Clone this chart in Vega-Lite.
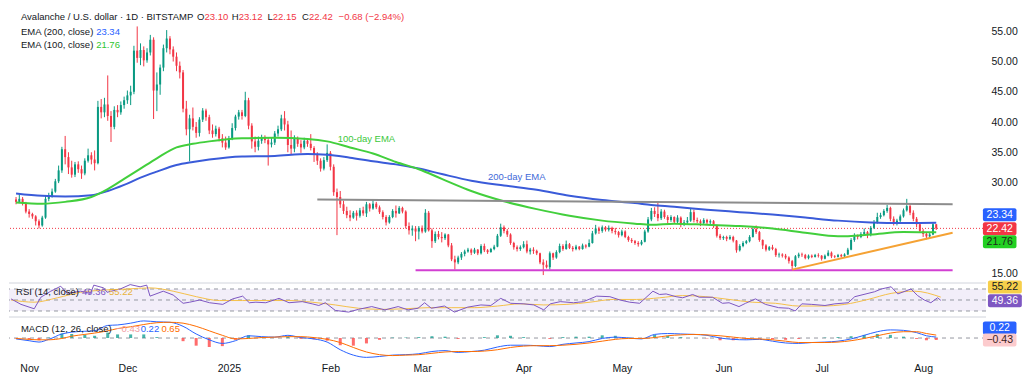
{
"$schema":"https://vega.github.io/schema/vega-lite/v6.json",
"background":"white",
"padding":{"left":8,"top":0,"right":0,"bottom":0},
"spacing":1,
"config":{"view":{"stroke":null},"font":"Liberation Sans"},
"datasets":{
"px":[
{"d":"2024-10-28","o":27.2,"h":27.6,"l":26.4,"c":26.8},
{"d":"2024-10-29","o":26.8,"h":28.0,"l":26.6,"c":27.3},
{"d":"2024-10-30","o":27.3,"h":27.6,"l":26.2,"c":26.5},
{"d":"2024-10-31","o":26.5,"h":26.8,"l":24.9,"c":25.2},
{"d":"2024-11-01","o":25.2,"h":25.6,"l":24.2,"c":24.8},
{"d":"2024-11-02","o":24.8,"h":25.0,"l":24.0,"c":24.4},
{"d":"2024-11-03","o":24.4,"h":24.6,"l":22.9,"c":23.6},
{"d":"2024-11-04","o":23.6,"h":23.9,"l":22.4,"c":22.9},
{"d":"2024-11-05","o":22.9,"h":24.5,"l":22.7,"c":24.2},
{"d":"2024-11-06","o":24.2,"h":27.8,"l":24.0,"c":27.3},
{"d":"2024-11-07","o":27.3,"h":28.3,"l":26.9,"c":27.8},
{"d":"2024-11-08","o":27.8,"h":29.0,"l":27.5,"c":28.5},
{"d":"2024-11-09","o":28.5,"h":30.6,"l":28.3,"c":30.2},
{"d":"2024-11-10","o":30.2,"h":32.8,"l":29.9,"c":32.0},
{"d":"2024-11-11","o":32.0,"h":35.9,"l":31.6,"c":35.5},
{"d":"2024-11-12","o":35.5,"h":37.7,"l":33.0,"c":34.2},
{"d":"2024-11-13","o":34.2,"h":35.0,"l":31.4,"c":32.5},
{"d":"2024-11-14","o":32.5,"h":33.6,"l":30.8,"c":31.3},
{"d":"2024-11-15","o":31.3,"h":33.4,"l":30.9,"c":33.0},
{"d":"2024-11-16","o":33.0,"h":33.5,"l":31.6,"c":32.2},
{"d":"2024-11-17","o":32.2,"h":32.8,"l":30.6,"c":31.5},
{"d":"2024-11-18","o":31.5,"h":34.0,"l":31.2,"c":33.6},
{"d":"2024-11-19","o":33.6,"h":35.6,"l":33.3,"c":34.5},
{"d":"2024-11-20","o":34.5,"h":35.0,"l":33.0,"c":33.8},
{"d":"2024-11-21","o":33.8,"h":35.3,"l":32.0,"c":33.2},
{"d":"2024-11-22","o":33.2,"h":43.5,"l":33.0,"c":42.5},
{"d":"2024-11-23","o":42.5,"h":43.8,"l":40.6,"c":41.6},
{"d":"2024-11-24","o":41.6,"h":44.0,"l":40.8,"c":42.9},
{"d":"2024-11-25","o":42.9,"h":47.7,"l":40.2,"c":41.0},
{"d":"2024-11-26","o":41.0,"h":41.8,"l":36.7,"c":39.2},
{"d":"2024-11-27","o":39.2,"h":42.6,"l":38.8,"c":42.0},
{"d":"2024-11-28","o":42.0,"h":42.8,"l":40.8,"c":41.6},
{"d":"2024-11-29","o":41.6,"h":43.4,"l":41.2,"c":42.8},
{"d":"2024-11-30","o":42.8,"h":44.2,"l":42.2,"c":43.6},
{"d":"2024-12-01","o":43.6,"h":45.2,"l":43.0,"c":44.4},
{"d":"2024-12-02","o":44.4,"h":46.0,"l":42.8,"c":45.0},
{"d":"2024-12-03","o":45.0,"h":52.6,"l":44.6,"c":51.8},
{"d":"2024-12-04","o":51.8,"h":55.8,"l":49.8,"c":50.6},
{"d":"2024-12-05","o":50.6,"h":53.0,"l":49.4,"c":51.9},
{"d":"2024-12-06","o":51.9,"h":52.5,"l":49.2,"c":50.2},
{"d":"2024-12-07","o":50.2,"h":52.2,"l":49.8,"c":51.5},
{"d":"2024-12-08","o":51.5,"h":54.4,"l":51.0,"c":53.6},
{"d":"2024-12-09","o":53.6,"h":54.0,"l":40.5,"c":45.2},
{"d":"2024-12-10","o":45.2,"h":48.2,"l":41.8,"c":46.2},
{"d":"2024-12-11","o":46.2,"h":49.5,"l":44.5,"c":49.0},
{"d":"2024-12-12","o":49.0,"h":52.8,"l":48.4,"c":52.2},
{"d":"2024-12-13","o":52.2,"h":55.2,"l":51.5,"c":53.8},
{"d":"2024-12-14","o":53.8,"h":54.2,"l":51.2,"c":52.0},
{"d":"2024-12-15","o":52.0,"h":52.5,"l":50.0,"c":50.8},
{"d":"2024-12-16","o":50.8,"h":51.5,"l":48.4,"c":49.3},
{"d":"2024-12-17","o":49.3,"h":50.0,"l":47.2,"c":48.2},
{"d":"2024-12-18","o":48.2,"h":48.6,"l":41.6,"c":42.2},
{"d":"2024-12-19","o":42.2,"h":43.5,"l":37.8,"c":38.8},
{"d":"2024-12-20","o":38.8,"h":41.2,"l":33.5,"c":40.6},
{"d":"2024-12-21","o":40.6,"h":42.4,"l":38.6,"c":39.2},
{"d":"2024-12-22","o":39.2,"h":40.0,"l":37.4,"c":38.2},
{"d":"2024-12-23","o":38.2,"h":40.8,"l":37.6,"c":40.4},
{"d":"2024-12-24","o":40.4,"h":42.3,"l":40.0,"c":41.9},
{"d":"2024-12-25","o":41.9,"h":42.2,"l":40.2,"c":40.8},
{"d":"2024-12-26","o":40.8,"h":41.2,"l":38.0,"c":38.6},
{"d":"2024-12-27","o":38.6,"h":39.6,"l":37.4,"c":38.0},
{"d":"2024-12-28","o":38.0,"h":39.4,"l":37.6,"c":38.9},
{"d":"2024-12-29","o":38.9,"h":39.2,"l":36.8,"c":37.3},
{"d":"2024-12-30","o":37.3,"h":38.0,"l":35.8,"c":36.6},
{"d":"2024-12-31","o":36.6,"h":37.6,"l":35.4,"c":35.8},
{"d":"2025-01-01","o":35.8,"h":37.7,"l":35.6,"c":37.3},
{"d":"2025-01-02","o":37.3,"h":39.8,"l":37.0,"c":39.0},
{"d":"2025-01-03","o":39.0,"h":41.2,"l":38.6,"c":40.9},
{"d":"2025-01-04","o":40.9,"h":42.0,"l":40.4,"c":41.6},
{"d":"2025-01-05","o":41.6,"h":42.0,"l":40.4,"c":41.0},
{"d":"2025-01-06","o":41.0,"h":45.0,"l":40.8,"c":43.6},
{"d":"2025-01-07","o":43.6,"h":44.0,"l":38.8,"c":39.4},
{"d":"2025-01-08","o":39.4,"h":39.8,"l":35.6,"c":36.8},
{"d":"2025-01-09","o":36.8,"h":37.6,"l":35.0,"c":35.9},
{"d":"2025-01-10","o":35.9,"h":37.6,"l":35.3,"c":36.9},
{"d":"2025-01-11","o":36.9,"h":37.9,"l":36.4,"c":37.4},
{"d":"2025-01-12","o":37.4,"h":37.8,"l":36.5,"c":37.0},
{"d":"2025-01-13","o":37.0,"h":37.5,"l":32.8,"c":36.3},
{"d":"2025-01-14","o":36.3,"h":37.4,"l":35.8,"c":36.6},
{"d":"2025-01-15","o":36.6,"h":38.5,"l":36.2,"c":38.1},
{"d":"2025-01-16","o":38.1,"h":39.4,"l":37.6,"c":38.8},
{"d":"2025-01-17","o":38.8,"h":41.2,"l":38.5,"c":40.6},
{"d":"2025-01-18","o":40.6,"h":41.8,"l":38.6,"c":39.6},
{"d":"2025-01-19","o":39.6,"h":40.2,"l":35.0,"c":36.2},
{"d":"2025-01-20","o":36.2,"h":38.6,"l":34.6,"c":35.6},
{"d":"2025-01-21","o":35.6,"h":37.8,"l":35.0,"c":37.2},
{"d":"2025-01-22","o":37.2,"h":37.6,"l":35.9,"c":36.4},
{"d":"2025-01-23","o":36.4,"h":37.0,"l":34.9,"c":35.8},
{"d":"2025-01-24","o":35.8,"h":37.4,"l":35.5,"c":36.9},
{"d":"2025-01-25","o":36.9,"h":37.2,"l":35.9,"c":36.4},
{"d":"2025-01-26","o":36.4,"h":38.0,"l":35.3,"c":35.7},
{"d":"2025-01-27","o":35.7,"h":36.0,"l":33.4,"c":34.6},
{"d":"2025-01-28","o":34.6,"h":35.0,"l":32.9,"c":33.6},
{"d":"2025-01-29","o":33.6,"h":34.0,"l":31.8,"c":32.3},
{"d":"2025-01-30","o":32.3,"h":34.2,"l":32.0,"c":33.7},
{"d":"2025-01-31","o":33.7,"h":36.3,"l":33.4,"c":34.9},
{"d":"2025-02-01","o":34.9,"h":35.2,"l":32.0,"c":32.6},
{"d":"2025-02-02","o":32.6,"h":33.0,"l":27.8,"c":28.4},
{"d":"2025-02-03","o":28.4,"h":29.0,"l":21.3,"c":27.6},
{"d":"2025-02-04","o":27.6,"h":28.6,"l":25.8,"c":26.4},
{"d":"2025-02-05","o":26.4,"h":27.0,"l":24.8,"c":25.3},
{"d":"2025-02-06","o":25.3,"h":26.0,"l":24.1,"c":24.6},
{"d":"2025-02-07","o":24.6,"h":25.4,"l":23.6,"c":24.2},
{"d":"2025-02-08","o":24.2,"h":25.3,"l":24.0,"c":25.0},
{"d":"2025-02-09","o":25.0,"h":25.4,"l":23.7,"c":24.5},
{"d":"2025-02-10","o":24.5,"h":25.8,"l":24.2,"c":25.4},
{"d":"2025-02-11","o":25.4,"h":26.0,"l":24.5,"c":24.9},
{"d":"2025-02-12","o":24.9,"h":26.8,"l":24.3,"c":26.4},
{"d":"2025-02-13","o":26.4,"h":26.6,"l":25.2,"c":25.7},
{"d":"2025-02-14","o":25.7,"h":27.2,"l":25.5,"c":26.5},
{"d":"2025-02-15","o":26.5,"h":26.8,"l":25.6,"c":25.9},
{"d":"2025-02-16","o":25.9,"h":26.2,"l":24.8,"c":25.1},
{"d":"2025-02-17","o":25.1,"h":25.4,"l":23.9,"c":24.3},
{"d":"2025-02-18","o":24.3,"h":24.6,"l":22.9,"c":23.4},
{"d":"2025-02-19","o":23.4,"h":24.6,"l":23.2,"c":24.3},
{"d":"2025-02-20","o":24.3,"h":25.6,"l":24.1,"c":25.3},
{"d":"2025-02-21","o":25.3,"h":26.2,"l":24.2,"c":24.9},
{"d":"2025-02-22","o":24.9,"h":26.1,"l":24.8,"c":25.8},
{"d":"2025-02-23","o":25.8,"h":26.0,"l":24.9,"c":25.2},
{"d":"2025-02-24","o":25.2,"h":25.4,"l":22.4,"c":22.8},
{"d":"2025-02-25","o":22.8,"h":23.4,"l":21.4,"c":22.1},
{"d":"2025-02-26","o":22.1,"h":22.9,"l":21.2,"c":22.4},
{"d":"2025-02-27","o":22.4,"h":22.8,"l":20.3,"c":21.9},
{"d":"2025-02-28","o":21.9,"h":22.8,"l":20.6,"c":22.5},
{"d":"2025-03-01","o":22.5,"h":22.9,"l":21.6,"c":21.9},
{"d":"2025-03-02","o":21.9,"h":25.6,"l":21.7,"c":25.0},
{"d":"2025-03-03","o":25.0,"h":25.3,"l":21.9,"c":22.1},
{"d":"2025-03-04","o":22.1,"h":22.4,"l":19.2,"c":20.3},
{"d":"2025-03-05","o":20.3,"h":21.9,"l":20.0,"c":21.5},
{"d":"2025-03-06","o":21.5,"h":22.0,"l":20.6,"c":21.0},
{"d":"2025-03-07","o":21.0,"h":21.8,"l":20.1,"c":20.8},
{"d":"2025-03-08","o":20.8,"h":21.6,"l":20.5,"c":21.4},
{"d":"2025-03-09","o":21.4,"h":21.5,"l":19.3,"c":19.6},
{"d":"2025-03-10","o":19.6,"h":20.0,"l":17.0,"c":17.3},
{"d":"2025-03-11","o":17.3,"h":17.9,"l":15.6,"c":16.8},
{"d":"2025-03-12","o":16.8,"h":17.9,"l":16.5,"c":17.6},
{"d":"2025-03-13","o":17.6,"h":18.5,"l":17.2,"c":18.2},
{"d":"2025-03-14","o":18.2,"h":18.9,"l":17.8,"c":18.6},
{"d":"2025-03-15","o":18.6,"h":19.2,"l":18.4,"c":18.9},
{"d":"2025-03-16","o":18.9,"h":19.1,"l":18.0,"c":18.4},
{"d":"2025-03-17","o":18.4,"h":19.2,"l":18.2,"c":18.9},
{"d":"2025-03-18","o":18.9,"h":19.0,"l":18.0,"c":18.3},
{"d":"2025-03-19","o":18.3,"h":19.8,"l":18.1,"c":19.5},
{"d":"2025-03-20","o":19.5,"h":19.9,"l":18.5,"c":18.8},
{"d":"2025-03-21","o":18.8,"h":19.0,"l":18.2,"c":18.5},
{"d":"2025-03-22","o":18.5,"h":19.2,"l":18.4,"c":19.0},
{"d":"2025-03-23","o":19.0,"h":19.7,"l":18.8,"c":19.4},
{"d":"2025-03-24","o":19.4,"h":21.5,"l":19.3,"c":21.2},
{"d":"2025-03-25","o":21.2,"h":23.2,"l":21.0,"c":22.6},
{"d":"2025-03-26","o":22.6,"h":22.9,"l":21.6,"c":22.0},
{"d":"2025-03-27","o":22.0,"h":22.3,"l":21.0,"c":21.4},
{"d":"2025-03-28","o":21.4,"h":21.6,"l":19.7,"c":20.0},
{"d":"2025-03-29","o":20.0,"h":20.2,"l":18.9,"c":19.3},
{"d":"2025-03-30","o":19.3,"h":19.6,"l":18.6,"c":19.0},
{"d":"2025-03-31","o":19.0,"h":19.6,"l":18.7,"c":19.3},
{"d":"2025-04-01","o":19.3,"h":20.3,"l":19.1,"c":19.8},
{"d":"2025-04-02","o":19.8,"h":20.4,"l":18.3,"c":18.6},
{"d":"2025-04-03","o":18.6,"h":19.2,"l":18.1,"c":18.9},
{"d":"2025-04-04","o":18.9,"h":19.3,"l":18.2,"c":18.7},
{"d":"2025-04-05","o":18.7,"h":18.9,"l":18.0,"c":18.3},
{"d":"2025-04-06","o":18.3,"h":18.4,"l":16.5,"c":16.8},
{"d":"2025-04-07","o":16.8,"h":17.3,"l":14.7,"c":16.4},
{"d":"2025-04-08","o":16.4,"h":17.1,"l":15.8,"c":16.0},
{"d":"2025-04-09","o":16.0,"h":18.6,"l":15.6,"c":18.3},
{"d":"2025-04-10","o":18.3,"h":18.4,"l":17.2,"c":17.6},
{"d":"2025-04-11","o":17.6,"h":18.8,"l":17.4,"c":18.5},
{"d":"2025-04-12","o":18.5,"h":19.9,"l":18.3,"c":19.5},
{"d":"2025-04-13","o":19.5,"h":19.8,"l":18.7,"c":19.0},
{"d":"2025-04-14","o":19.0,"h":20.4,"l":18.9,"c":19.8},
{"d":"2025-04-15","o":19.8,"h":20.0,"l":19.0,"c":19.2},
{"d":"2025-04-16","o":19.2,"h":19.5,"l":18.6,"c":19.0},
{"d":"2025-04-17","o":19.0,"h":19.7,"l":18.8,"c":19.4},
{"d":"2025-04-18","o":19.4,"h":19.5,"l":18.8,"c":19.0},
{"d":"2025-04-19","o":19.0,"h":19.9,"l":18.9,"c":19.6},
{"d":"2025-04-20","o":19.6,"h":19.8,"l":19.1,"c":19.4},
{"d":"2025-04-21","o":19.4,"h":20.6,"l":19.3,"c":20.0},
{"d":"2025-04-22","o":20.0,"h":22.0,"l":19.9,"c":21.6},
{"d":"2025-04-23","o":21.6,"h":23.0,"l":21.4,"c":22.4},
{"d":"2025-04-24","o":22.4,"h":22.7,"l":21.5,"c":22.0},
{"d":"2025-04-25","o":22.0,"h":22.9,"l":21.7,"c":22.6},
{"d":"2025-04-26","o":22.6,"h":22.8,"l":21.9,"c":22.2},
{"d":"2025-04-27","o":22.2,"h":22.9,"l":21.9,"c":22.5},
{"d":"2025-04-28","o":22.5,"h":22.7,"l":21.6,"c":22.0},
{"d":"2025-04-29","o":22.0,"h":22.5,"l":21.4,"c":21.8},
{"d":"2025-04-30","o":21.8,"h":22.0,"l":20.9,"c":21.3},
{"d":"2025-05-01","o":21.3,"h":22.2,"l":21.1,"c":21.9},
{"d":"2025-05-02","o":21.9,"h":22.1,"l":20.8,"c":21.0},
{"d":"2025-05-03","o":21.0,"h":21.2,"l":20.2,"c":20.5},
{"d":"2025-05-04","o":20.5,"h":20.8,"l":20.0,"c":20.3},
{"d":"2025-05-05","o":20.3,"h":20.5,"l":19.7,"c":20.0},
{"d":"2025-05-06","o":20.0,"h":20.3,"l":19.4,"c":19.8},
{"d":"2025-05-07","o":19.8,"h":20.5,"l":19.6,"c":20.2},
{"d":"2025-05-08","o":20.2,"h":22.2,"l":20.1,"c":21.9},
{"d":"2025-05-09","o":21.9,"h":24.3,"l":21.7,"c":23.9},
{"d":"2025-05-10","o":23.9,"h":25.8,"l":23.6,"c":25.3},
{"d":"2025-05-11","o":25.3,"h":25.9,"l":24.3,"c":24.8},
{"d":"2025-05-12","o":24.8,"h":26.7,"l":23.6,"c":24.1},
{"d":"2025-05-13","o":24.1,"h":25.6,"l":23.8,"c":25.2},
{"d":"2025-05-14","o":25.2,"h":25.5,"l":24.0,"c":24.3},
{"d":"2025-05-15","o":24.3,"h":24.6,"l":23.2,"c":23.8},
{"d":"2025-05-16","o":23.8,"h":24.6,"l":23.5,"c":24.3},
{"d":"2025-05-17","o":24.3,"h":24.4,"l":23.2,"c":23.5},
{"d":"2025-05-18","o":23.5,"h":24.6,"l":23.3,"c":24.2},
{"d":"2025-05-19","o":24.2,"h":24.4,"l":22.6,"c":23.0},
{"d":"2025-05-20","o":23.0,"h":23.8,"l":22.8,"c":23.4},
{"d":"2025-05-21","o":23.4,"h":24.3,"l":23.0,"c":23.7},
{"d":"2025-05-22","o":23.7,"h":25.8,"l":23.5,"c":25.1},
{"d":"2025-05-23","o":25.1,"h":25.5,"l":23.4,"c":23.8},
{"d":"2025-05-24","o":23.8,"h":24.2,"l":23.3,"c":23.6},
{"d":"2025-05-25","o":23.6,"h":23.9,"l":22.8,"c":23.3},
{"d":"2025-05-26","o":23.3,"h":24.1,"l":23.1,"c":23.8},
{"d":"2025-05-27","o":23.8,"h":24.0,"l":23.0,"c":23.4},
{"d":"2025-05-28","o":23.4,"h":23.9,"l":23.0,"c":23.6},
{"d":"2025-05-29","o":23.6,"h":23.8,"l":22.5,"c":22.8},
{"d":"2025-05-30","o":22.8,"h":23.0,"l":20.9,"c":21.2},
{"d":"2025-05-31","o":21.2,"h":21.5,"l":20.5,"c":20.8},
{"d":"2025-06-01","o":20.8,"h":21.2,"l":20.5,"c":21.0},
{"d":"2025-06-02","o":21.0,"h":21.2,"l":20.3,"c":20.7},
{"d":"2025-06-03","o":20.7,"h":21.3,"l":20.5,"c":21.0},
{"d":"2025-06-04","o":21.0,"h":21.2,"l":20.1,"c":20.4},
{"d":"2025-06-05","o":20.4,"h":20.5,"l":18.4,"c":18.8},
{"d":"2025-06-06","o":18.8,"h":19.8,"l":18.6,"c":19.5},
{"d":"2025-06-07","o":19.5,"h":20.3,"l":19.3,"c":20.0},
{"d":"2025-06-08","o":20.0,"h":20.5,"l":19.8,"c":20.3},
{"d":"2025-06-09","o":20.3,"h":21.3,"l":20.1,"c":21.0},
{"d":"2025-06-10","o":21.0,"h":22.6,"l":20.9,"c":22.3},
{"d":"2025-06-11","o":22.3,"h":22.9,"l":21.5,"c":21.8},
{"d":"2025-06-12","o":21.8,"h":22.0,"l":20.2,"c":20.5},
{"d":"2025-06-13","o":20.5,"h":20.6,"l":19.0,"c":19.6},
{"d":"2025-06-14","o":19.6,"h":19.8,"l":18.6,"c":18.9},
{"d":"2025-06-15","o":18.9,"h":19.5,"l":18.7,"c":19.3},
{"d":"2025-06-16","o":19.3,"h":19.7,"l":18.8,"c":19.0},
{"d":"2025-06-17","o":19.0,"h":19.2,"l":17.7,"c":18.0},
{"d":"2025-06-18","o":18.0,"h":18.4,"l":17.6,"c":18.1},
{"d":"2025-06-19","o":18.1,"h":18.3,"l":17.6,"c":17.9},
{"d":"2025-06-20","o":17.9,"h":18.2,"l":17.3,"c":17.6},
{"d":"2025-06-21","o":17.6,"h":17.8,"l":16.6,"c":17.0},
{"d":"2025-06-22","o":17.0,"h":17.2,"l":15.5,"c":16.2},
{"d":"2025-06-23","o":16.2,"h":18.0,"l":16.0,"c":17.8},
{"d":"2025-06-24","o":17.8,"h":18.4,"l":17.5,"c":18.1},
{"d":"2025-06-25","o":18.1,"h":18.4,"l":17.7,"c":18.0},
{"d":"2025-06-26","o":18.0,"h":18.2,"l":17.3,"c":17.5},
{"d":"2025-06-27","o":17.5,"h":18.1,"l":17.3,"c":17.9},
{"d":"2025-06-28","o":17.9,"h":18.1,"l":17.5,"c":17.7},
{"d":"2025-06-29","o":17.7,"h":18.2,"l":17.6,"c":18.0},
{"d":"2025-06-30","o":18.0,"h":18.3,"l":17.6,"c":17.9},
{"d":"2025-07-01","o":17.9,"h":18.0,"l":17.1,"c":17.4},
{"d":"2025-07-02","o":17.4,"h":18.1,"l":17.3,"c":17.9},
{"d":"2025-07-03","o":17.9,"h":18.8,"l":17.8,"c":18.4},
{"d":"2025-07-04","o":18.4,"h":18.6,"l":17.5,"c":17.8},
{"d":"2025-07-05","o":17.8,"h":18.0,"l":17.5,"c":17.7},
{"d":"2025-07-06","o":17.7,"h":18.2,"l":17.6,"c":18.0},
{"d":"2025-07-07","o":18.0,"h":18.2,"l":17.6,"c":17.8},
{"d":"2025-07-08","o":17.8,"h":18.3,"l":17.6,"c":18.1},
{"d":"2025-07-09","o":18.1,"h":19.2,"l":18.0,"c":18.9},
{"d":"2025-07-10","o":18.9,"h":20.8,"l":18.8,"c":20.5},
{"d":"2025-07-11","o":20.5,"h":21.6,"l":20.2,"c":21.2},
{"d":"2025-07-12","o":21.2,"h":21.4,"l":20.6,"c":21.0},
{"d":"2025-07-13","o":21.0,"h":21.8,"l":20.8,"c":21.5},
{"d":"2025-07-14","o":21.5,"h":22.4,"l":21.3,"c":21.8},
{"d":"2025-07-15","o":21.8,"h":22.0,"l":20.8,"c":21.3},
{"d":"2025-07-16","o":21.3,"h":22.8,"l":21.1,"c":22.5},
{"d":"2025-07-17","o":22.5,"h":23.8,"l":22.3,"c":23.4},
{"d":"2025-07-18","o":23.4,"h":25.0,"l":23.2,"c":24.3},
{"d":"2025-07-19","o":24.3,"h":25.0,"l":24.0,"c":24.6},
{"d":"2025-07-20","o":24.6,"h":25.6,"l":24.4,"c":25.3},
{"d":"2025-07-21","o":25.3,"h":26.3,"l":25.0,"c":25.8},
{"d":"2025-07-22","o":25.8,"h":26.0,"l":23.6,"c":24.0},
{"d":"2025-07-23","o":24.0,"h":24.4,"l":22.9,"c":23.3},
{"d":"2025-07-24","o":23.3,"h":24.0,"l":22.9,"c":23.7},
{"d":"2025-07-25","o":23.7,"h":24.7,"l":23.4,"c":24.4},
{"d":"2025-07-26","o":24.4,"h":25.7,"l":24.2,"c":25.4},
{"d":"2025-07-27","o":25.4,"h":27.3,"l":25.2,"c":26.1},
{"d":"2025-07-28","o":26.1,"h":26.6,"l":24.6,"c":25.0},
{"d":"2025-07-29","o":25.0,"h":25.4,"l":23.6,"c":24.0},
{"d":"2025-07-30","o":24.0,"h":24.3,"l":22.6,"c":23.1},
{"d":"2025-07-31","o":23.1,"h":23.4,"l":21.7,"c":22.0},
{"d":"2025-08-01","o":22.0,"h":22.3,"l":21.0,"c":21.5},
{"d":"2025-08-02","o":21.5,"h":21.8,"l":20.6,"c":21.1},
{"d":"2025-08-03","o":21.1,"h":21.7,"l":20.8,"c":21.4},
{"d":"2025-08-04","o":21.4,"h":23.4,"l":21.3,"c":23.1},
{"d":"2025-08-05","o":23.1,"h":23.12,"l":22.15,"c":22.42}
],
"ema":[
{"d":"2024-10-28","e200":28.2,"e100":26.7},
{"d":"2024-11-05","e200":27.8,"e100":26.5},
{"d":"2024-11-12","e200":27.7,"e100":26.8},
{"d":"2024-11-20","e200":27.9,"e100":27.6},
{"d":"2024-11-25","e200":28.6,"e100":28.9},
{"d":"2024-11-30","e200":29.6,"e100":30.6},
{"d":"2024-12-05","e200":30.8,"e100":32.3},
{"d":"2024-12-10","e200":31.8,"e100":34.0},
{"d":"2024-12-16","e200":32.9,"e100":35.8},
{"d":"2024-12-21","e200":33.4,"e100":36.4},
{"d":"2024-12-26","e200":33.8,"e100":36.8},
{"d":"2025-01-05","e200":34.3,"e100":37.3},
{"d":"2025-01-15","e200":34.4,"e100":37.4},
{"d":"2025-01-25","e200":34.7,"e100":37.2},
{"d":"2025-01-31","e200":34.6,"e100":36.8},
{"d":"2025-02-07","e200":34.1,"e100":35.8},
{"d":"2025-02-14","e200":33.5,"e100":34.8},
{"d":"2025-02-21","e200":33.0,"e100":33.4},
{"d":"2025-02-28","e200":32.3,"e100":32.2},
{"d":"2025-03-07","e200":31.4,"e100":30.6},
{"d":"2025-03-16","e200":30.3,"e100":28.6},
{"d":"2025-03-26","e200":29.5,"e100":26.9},
{"d":"2025-04-05","e200":28.8,"e100":25.6},
{"d":"2025-04-15","e200":27.8,"e100":24.5},
{"d":"2025-04-25","e200":27.1,"e100":23.7},
{"d":"2025-05-05","e200":26.6,"e100":23.2},
{"d":"2025-05-10","e200":26.3,"e100":23.0},
{"d":"2025-05-17","e200":26.0,"e100":23.2},
{"d":"2025-05-27","e200":25.5,"e100":23.0},
{"d":"2025-06-06","e200":25.1,"e100":22.8},
{"d":"2025-06-16","e200":24.7,"e100":22.4},
{"d":"2025-06-26","e200":24.2,"e100":21.7},
{"d":"2025-07-06","e200":23.7,"e100":21.1},
{"d":"2025-07-16","e200":23.4,"e100":21.4},
{"d":"2025-07-26","e200":23.3,"e100":21.8},
{"d":"2025-08-05","e200":23.34,"e100":21.76}
],
"rsi":[
{"d":"2024-10-28","r":52},{"d":"2024-10-31","r":42},{"d":"2024-11-04","r":34},{"d":"2024-11-06","r":55},{"d":"2024-11-09","r":66},{"d":"2024-11-12","r":75},{"d":"2024-11-14","r":62},{"d":"2024-11-18","r":66},{"d":"2024-11-21","r":62},{"d":"2024-11-22","r":77},{"d":"2024-11-25","r":72},{"d":"2024-11-26","r":64},{"d":"2024-11-30","r":70},{"d":"2024-12-03","r":78},{"d":"2024-12-06","r":74},{"d":"2024-12-08","r":77},{"d":"2024-12-09","r":57},{"d":"2024-12-13","r":66},{"d":"2024-12-16","r":59},{"d":"2024-12-19","r":44},{"d":"2024-12-21","r":46},{"d":"2024-12-24","r":50},{"d":"2024-12-27","r":45},{"d":"2024-12-31","r":42},{"d":"2025-01-03","r":52},{"d":"2025-01-06","r":57},{"d":"2025-01-08","r":45},{"d":"2025-01-10","r":46},{"d":"2025-01-13","r":45},{"d":"2025-01-17","r":53},{"d":"2025-01-20","r":45},{"d":"2025-01-24","r":47},{"d":"2025-01-27","r":43},{"d":"2025-01-29","r":40},{"d":"2025-01-31","r":45},{"d":"2025-02-03","r":31},{"d":"2025-02-07","r":28},{"d":"2025-02-10","r":33},{"d":"2025-02-14","r":38},{"d":"2025-02-18","r":32},{"d":"2025-02-22","r":38},{"d":"2025-02-25","r":32},{"d":"2025-02-28","r":35},{"d":"2025-03-02","r":45},{"d":"2025-03-04","r":35},{"d":"2025-03-08","r":39},{"d":"2025-03-11","r":28},{"d":"2025-03-15","r":37},{"d":"2025-03-19","r":41},{"d":"2025-03-22","r":40},{"d":"2025-03-25","r":53},{"d":"2025-03-28","r":44},{"d":"2025-04-01","r":43},{"d":"2025-04-04","r":41},{"d":"2025-04-07","r":32},{"d":"2025-04-09","r":43},{"d":"2025-04-12","r":47},{"d":"2025-04-16","r":45},{"d":"2025-04-19","r":47},{"d":"2025-04-23","r":57},{"d":"2025-04-27","r":56},{"d":"2025-04-30","r":50},{"d":"2025-05-03","r":46},{"d":"2025-05-06","r":44},{"d":"2025-05-10","r":66},{"d":"2025-05-12","r":60},{"d":"2025-05-14","r":61},{"d":"2025-05-17","r":56},{"d":"2025-05-19","r":54},{"d":"2025-05-22","r":60},{"d":"2025-05-24","r":55},{"d":"2025-05-28","r":55},{"d":"2025-05-31","r":44},{"d":"2025-06-02","r":45},{"d":"2025-06-05","r":38},{"d":"2025-06-07","r":44},{"d":"2025-06-10","r":52},{"d":"2025-06-13","r":42},{"d":"2025-06-17","r":36},{"d":"2025-06-20","r":35},{"d":"2025-06-22","r":30},{"d":"2025-06-24","r":43},{"d":"2025-06-27","r":42},{"d":"2025-07-01","r":40},{"d":"2025-07-04","r":43},{"d":"2025-07-08","r":45},{"d":"2025-07-10","r":56},{"d":"2025-07-14","r":62},{"d":"2025-07-16","r":65},{"d":"2025-07-18","r":70},{"d":"2025-07-21","r":74},{"d":"2025-07-23","r":61},{"d":"2025-07-27","r":70},{"d":"2025-07-29","r":58},{"d":"2025-07-31","r":50},{"d":"2025-08-02","r":45},{"d":"2025-08-04","r":54},{"d":"2025-08-05","r":49.36}
],
"rsima":[
{"d":"2024-10-28","m":50},{"d":"2024-11-04","m":46},{"d":"2024-11-11","m":54},{"d":"2024-11-18","m":64},{"d":"2024-11-25","m":68},{"d":"2024-12-02","m":70},{"d":"2024-12-09","m":72},{"d":"2024-12-16","m":66},{"d":"2024-12-23","m":56},{"d":"2024-12-30","m":49},{"d":"2025-01-06","m":49},{"d":"2025-01-13","m":49},{"d":"2025-01-20","m":49},{"d":"2025-01-27","m":46},{"d":"2025-02-03","m":41},{"d":"2025-02-10","m":35},{"d":"2025-02-17","m":33},{"d":"2025-02-24","m":34},{"d":"2025-03-03","m":36},{"d":"2025-03-10","m":36},{"d":"2025-03-17","m":36},{"d":"2025-03-24","m":39},{"d":"2025-03-31","m":43},{"d":"2025-04-07","m":41},{"d":"2025-04-14","m":42},{"d":"2025-04-21","m":46},{"d":"2025-04-28","m":51},{"d":"2025-05-05","m":51},{"d":"2025-05-12","m":54},{"d":"2025-05-19","m":58},{"d":"2025-05-26","m":56},{"d":"2025-06-02","m":51},{"d":"2025-06-09","m":46},{"d":"2025-06-16","m":44},{"d":"2025-06-23","m":39},{"d":"2025-06-30","m":39},{"d":"2025-07-07","m":42},{"d":"2025-07-14","m":51},{"d":"2025-07-21","m":62},{"d":"2025-07-28","m":66},{"d":"2025-08-05","m":55.22}
],
"macd":[
{"d":"2024-10-28","m":-0.2,"s":-0.1,"h":-0.1},{"d":"2024-11-01","m":-0.6,"s":-0.3,"h":-0.3},{"d":"2024-11-04","m":-0.9,"s":-0.4,"h":-0.5},{"d":"2024-11-07","m":-0.3,"s":-0.4,"h":0.1},{"d":"2024-11-11","m":0.9,"s":-0.1,"h":1.0},{"d":"2024-11-14","m":1.3,"s":0.4,"h":0.9},{"d":"2024-11-18","m":1.5,"s":0.8,"h":0.7},{"d":"2024-11-21","m":1.6,"s":1.1,"h":0.5},{"d":"2024-11-25","m":2.8,"s":1.6,"h":1.2},{"d":"2024-11-28","m":2.9,"s":2.1,"h":0.8},{"d":"2024-12-02","m":3.3,"s":2.5,"h":0.8},{"d":"2024-12-06","m":3.8,"s":3.0,"h":0.8},{"d":"2024-12-10","m":3.6,"s":3.4,"h":0.2},{"d":"2024-12-14","m":3.5,"s":3.5,"h":0.0},{"d":"2024-12-18","m":2.6,"s":3.3,"h":-0.7},{"d":"2024-12-22","m":0.9,"s":2.6,"h":-1.7},{"d":"2024-12-26","m":-0.4,"s":1.6,"h":-2.0},{"d":"2024-12-30","m":-1.2,"s":0.6,"h":-1.8},{"d":"2025-01-03","m":-0.6,"s":-0.2,"h":-0.4},{"d":"2025-01-07","m":0.5,"s":-0.1,"h":0.6},{"d":"2025-01-11","m":0.3,"s":0.1,"h":0.2},{"d":"2025-01-15","m":0.2,"s":0.2,"h":0.0},{"d":"2025-01-19","m":0.6,"s":0.3,"h":0.3},{"d":"2025-01-23","m":0.1,"s":0.3,"h":-0.2},{"d":"2025-01-27","m":-0.2,"s":0.1,"h":-0.3},{"d":"2025-01-31","m":-0.9,"s":-0.3,"h":-0.6},{"d":"2025-02-04","m":-2.6,"s":-1.0,"h":-1.6},{"d":"2025-02-08","m":-3.8,"s":-2.1,"h":-1.7},{"d":"2025-02-12","m":-4.3,"s":-3.1,"h":-1.2},{"d":"2025-02-16","m":-4.1,"s":-3.7,"h":-0.4},{"d":"2025-02-20","m":-3.8,"s":-3.9,"h":0.1},{"d":"2025-02-24","m":-3.7,"s":-3.8,"h":0.1},{"d":"2025-02-28","m":-3.5,"s":-3.7,"h":0.2},{"d":"2025-03-04","m":-3.0,"s":-3.4,"h":0.4},{"d":"2025-03-08","m":-2.8,"s":-3.1,"h":0.3},{"d":"2025-03-12","m":-3.2,"s":-3.0,"h":-0.2},{"d":"2025-03-16","m":-3.0,"s":-3.0,"h":0.0},{"d":"2025-03-20","m":-2.7,"s":-2.9,"h":0.2},{"d":"2025-03-24","m":-2.0,"s":-2.6,"h":0.6},{"d":"2025-03-28","m":-1.6,"s":-2.1,"h":0.5},{"d":"2025-04-01","m":-1.6,"s":-1.8,"h":0.2},{"d":"2025-04-05","m":-1.7,"s":-1.7,"h":0.0},{"d":"2025-04-09","m":-1.9,"s":-1.7,"h":-0.2},{"d":"2025-04-13","m":-1.4,"s":-1.6,"h":0.2},{"d":"2025-04-17","m":-1.1,"s":-1.4,"h":0.3},{"d":"2025-04-21","m":-0.8,"s":-1.1,"h":0.3},{"d":"2025-04-25","m":-0.1,"s":-0.7,"h":0.6},{"d":"2025-04-29","m":0.2,"s":-0.3,"h":0.5},{"d":"2025-05-03","m":0.0,"s":-0.1,"h":0.1},{"d":"2025-05-07","m":-0.2,"s":-0.1,"h":-0.1},{"d":"2025-05-11","m":0.8,"s":0.1,"h":0.7},{"d":"2025-05-15","m":1.0,"s":0.5,"h":0.5},{"d":"2025-05-19","m":0.9,"s":0.7,"h":0.2},{"d":"2025-05-23","m":0.8,"s":0.8,"h":0.0},{"d":"2025-05-27","m":0.6,"s":0.7,"h":-0.1},{"d":"2025-05-31","m":0.0,"s":0.5,"h":-0.5},{"d":"2025-06-04","m":-0.3,"s":0.2,"h":-0.5},{"d":"2025-06-08","m":-0.4,"s":-0.1,"h":-0.3},{"d":"2025-06-12","m":-0.3,"s":-0.2,"h":-0.1},{"d":"2025-06-16","m":-0.7,"s":-0.4,"h":-0.3},{"d":"2025-06-20","m":-1.1,"s":-0.7,"h":-0.4},{"d":"2025-06-24","m":-1.2,"s":-1.0,"h":-0.2},{"d":"2025-06-28","m":-1.0,"s":-1.0,"h":0.0},{"d":"2025-07-02","m":-0.9,"s":-1.0,"h":0.1},{"d":"2025-07-06","m":-0.7,"s":-0.9,"h":0.2},{"d":"2025-07-10","m":-0.2,"s":-0.6,"h":0.4},{"d":"2025-07-14","m":0.6,"s":-0.1,"h":0.7},{"d":"2025-07-18","m":1.4,"s":0.5,"h":0.9},{"d":"2025-07-22","m":1.8,"s":1.1,"h":0.7},{"d":"2025-07-26","m":1.7,"s":1.4,"h":0.3},{"d":"2025-07-30","m":1.2,"s":1.4,"h":-0.2},{"d":"2025-08-02","m":0.5,"s":1.0,"h":-0.5},{"d":"2025-08-05","m":0.22,"s":0.65,"h":-0.43}
],
"tp":[
{"d":"2024-10-29T12:00:00Z","v":57.31,"t":"Avalanche / U.S. dollar · 1D · BITSTAMP","k":"dark"},
{"d":"2024-12-22T07:00:00Z","v":57.31,"t":"O","k":"dark"},
{"d":"2024-12-24T13:00:00Z","v":57.31,"t":"23.10","k":"red"},
{"d":"2025-01-01T21:00:00Z","v":57.31,"t":"H","k":"dark"},
{"d":"2025-01-03T23:30:00Z","v":57.31,"t":"23.12","k":"red"},
{"d":"2025-01-12T18:00:00Z","v":57.31,"t":"L","k":"dark"},
{"d":"2025-01-14T09:30:00Z","v":57.31,"t":"22.15","k":"red"},
{"d":"2025-01-23T08:00:00Z","v":57.31,"t":"C","k":"dark"},
{"d":"2025-01-25T10:30:00Z","v":57.31,"t":"22.42","k":"red"},
{"d":"2025-02-03T12:00:00Z","v":57.31,"t":"−0.68 (−2.94%)","k":"red"},
{"d":"2024-10-29T12:00:00Z","v":54.93,"t":"EMA (200, close)","k":"dark"},
{"d":"2024-11-21T11:00:00Z","v":54.93,"t":"23.34","k":"blue"},
{"d":"2024-10-29T12:00:00Z","v":52.73,"t":"EMA (100, close)","k":"dark"},
{"d":"2024-11-21T11:00:00Z","v":52.73,"t":"21.76","k":"green"},
{"d":"2025-02-03T05:00:00Z","v":37.14,"t":"100-day EMA","k":"eg"},
{"d":"2025-03-21T03:00:00Z","v":30.87,"t":"200-day EMA","k":"eb"}
],
"tr":[
{"d":"2024-10-29T12:00:00Z","v":64.5,"t":"RSI (14, close)","k":"dark"},
{"d":"2024-11-18T10:30:00Z","v":64.5,"t":"49.36","k":"rsi"},
{"d":"2024-11-26T14:00:00Z","v":64.5,"t":"55.22","k":"ma"}
],
"tm":[
{"d":"2024-10-29T12:00:00Z","v":2.0,"t":"MACD (12, 26, close)","k":"dark"},
{"d":"2024-11-27T12:00:00Z","v":2.0,"t":"−0.43","k":"hist"},
{"d":"2024-12-05T01:30:00Z","v":2.0,"t":"0.22","k":"macd"},
{"d":"2024-12-11T09:30:00Z","v":2.0,"t":"0.65","k":"sig"}
]
},
"vconcat":[
{
"width":977,"height":279,
"resolve":{"scale":{"color":"independent"}},
"layer":[
{"data":{"values":[{"v":22.42}]},"mark":{"type":"rule","color":"#f23645","strokeDash":[1,2],"strokeWidth":1},
 "encoding":{"y":{"field":"v","type":"quantitative","scale":{"domain":[14.05,60.17],"nice":false,"zero":false},"axis":{"orient":"right","values":[15,30,35,40,45,50,55],"format":".2f","title":null,"domain":false,"ticks":false,"grid":false,"labelFontSize":10.5,"labelColor":"#131722","labelPadding":5,"labelFont":"Liberation Sans"}}}},
{"data":{"name":"px"},"mark":{"type":"rule","strokeWidth":1},
 "encoding":{"x":{"field":"d","type":"temporal","scale":{"type":"utc","domain":[{"year":2024,"month":10,"date":27,"hours":9,"utc":true},{"year":2025,"month":8,"date":18,"hours":16,"utc":true}]},"axis":null},
  "y":{"field":"l","type":"quantitative","axis":{"orient":"right","values":[15,30,35,40,45,50,55],"format":".2f","title":null,"domain":false,"ticks":false,"grid":false,"labelFontSize":10.5,"labelColor":"#131722","labelPadding":5,"labelFont":"Liberation Sans"}},"y2":{"field":"h"},
  "color":{"condition":{"test":"datum.c >= datum.o","value":"#089981"},"value":"#f23645"}}},
{"data":{"name":"px"},"mark":{"type":"bar","width":2},
 "encoding":{"x":{"field":"d","type":"temporal","scale":{"type":"utc","domain":[{"year":2024,"month":10,"date":27,"hours":9,"utc":true},{"year":2025,"month":8,"date":18,"hours":16,"utc":true}]},"axis":null},
  "y":{"field":"o","type":"quantitative","axis":{"orient":"right","values":[15,30,35,40,45,50,55],"format":".2f","title":null,"domain":false,"ticks":false,"grid":false,"labelFontSize":10.5,"labelColor":"#131722","labelPadding":5,"labelFont":"Liberation Sans"}},"y2":{"field":"c"},
  "color":{"condition":{"test":"datum.c >= datum.o","value":"#089981"},"value":"#f23645"}}},
{"data":{"name":"ema"},"mark":{"type":"line","color":"#3a5bd9","strokeWidth":2,"interpolate":"monotone"},
 "encoding":{"x":{"field":"d","type":"temporal","scale":{"type":"utc","domain":[{"year":2024,"month":10,"date":27,"hours":9,"utc":true},{"year":2025,"month":8,"date":18,"hours":16,"utc":true}]},"axis":null},
  "y":{"field":"e200","type":"quantitative","axis":{"orient":"right","values":[15,30,35,40,45,50,55],"format":".2f","title":null,"domain":false,"ticks":false,"grid":false,"labelFontSize":10.5,"labelColor":"#131722","labelPadding":5,"labelFont":"Liberation Sans"}}}},
{"data":{"name":"ema"},"mark":{"type":"line","color":"#42cf3c","strokeWidth":2,"interpolate":"monotone"},
 "encoding":{"x":{"field":"d","type":"temporal","scale":{"type":"utc","domain":[{"year":2024,"month":10,"date":27,"hours":9,"utc":true},{"year":2025,"month":8,"date":18,"hours":16,"utc":true}]},"axis":null},
  "y":{"field":"e100","type":"quantitative","axis":{"orient":"right","values":[15,30,35,40,45,50,55],"format":".2f","title":null,"domain":false,"ticks":false,"grid":false,"labelFontSize":10.5,"labelColor":"#131722","labelPadding":5,"labelFont":"Liberation Sans"}}}},
{"data":{"values":[{"d":"2025-01-28","p":27.2},{"d":"2025-08-10","p":26.4}]},"mark":{"type":"line","color":"#8c8c8c","strokeWidth":2},
 "encoding":{"x":{"field":"d","type":"temporal","scale":{"type":"utc","domain":[{"year":2024,"month":10,"date":27,"hours":9,"utc":true},{"year":2025,"month":8,"date":18,"hours":16,"utc":true}]},"axis":null},
  "y":{"field":"p","type":"quantitative","axis":{"orient":"right","values":[15,30,35,40,45,50,55],"format":".2f","title":null,"domain":false,"ticks":false,"grid":false,"labelFontSize":10.5,"labelColor":"#131722","labelPadding":5,"labelFont":"Liberation Sans"}}}},
{"data":{"values":[{"d":"2025-02-27","p":15.5},{"d":"2025-08-10","p":15.5}]},"mark":{"type":"line","color":"#d23fd2","strokeWidth":2},
 "encoding":{"x":{"field":"d","type":"temporal","scale":{"type":"utc","domain":[{"year":2024,"month":10,"date":27,"hours":9,"utc":true},{"year":2025,"month":8,"date":18,"hours":16,"utc":true}]},"axis":null},
  "y":{"field":"p","type":"quantitative","axis":{"orient":"right","values":[15,30,35,40,45,50,55],"format":".2f","title":null,"domain":false,"ticks":false,"grid":false,"labelFontSize":10.5,"labelColor":"#131722","labelPadding":5,"labelFont":"Liberation Sans"}}}},
{"data":{"values":[{"d":"2025-06-22","p":15.6},{"d":"2025-08-10","p":21.7}]},"mark":{"type":"line","color":"#f5a234","strokeWidth":2},
 "encoding":{"x":{"field":"d","type":"temporal","scale":{"type":"utc","domain":[{"year":2024,"month":10,"date":27,"hours":9,"utc":true},{"year":2025,"month":8,"date":18,"hours":16,"utc":true}]},"axis":null},
  "y":{"field":"p","type":"quantitative","axis":{"orient":"right","values":[15,30,35,40,45,50,55],"format":".2f","title":null,"domain":false,"ticks":false,"grid":false,"labelFontSize":10.5,"labelColor":"#131722","labelPadding":5,"labelFont":"Liberation Sans"}}}},
{"data":{"name":"tp"},"mark":{"type":"text","align":"left","baseline":"middle","fontSize":9.5,"font":"Liberation Sans"},
 "encoding":{"x":{"field":"d","type":"temporal","scale":{"type":"utc","domain":[{"year":2024,"month":10,"date":27,"hours":9,"utc":true},{"year":2025,"month":8,"date":18,"hours":16,"utc":true}]},"axis":null},
  "y":{"field":"v","type":"quantitative","axis":{"orient":"right","values":[15,30,35,40,45,50,55],"format":".2f","title":null,"domain":false,"ticks":false,"grid":false,"labelFontSize":10.5,"labelColor":"#131722","labelPadding":5,"labelFont":"Liberation Sans"}},"text":{"field":"t"},
  "color":{"field":"k","type":"nominal","scale":{"domain":["dark","red","blue","green","eg","eb"],"range":["#131722","#f23645","#2962ff","#2fc42f","#3cc83c","#3f6ad8"]},"legend":null}}},
{"data":{"values":[{"v":23.34,"t":"23.34"}]},
 "encoding":{"y":{"field":"v","type":"quantitative","axis":{"orient":"right","values":[15,30,35,40,45,50,55],"format":".2f","title":null,"domain":false,"ticks":false,"grid":false,"labelFontSize":10.5,"labelColor":"#131722","labelPadding":5,"labelFont":"Liberation Sans"}}},
 "layer":[
  {"mark":{"type":"rect","color":"#2962ff","cornerRadius":2,"yOffset":-14.5,"y2Offset":-1.5},
   "encoding":{"x":{"datum":{"year":2025,"month":8,"date":19,"hours":6,"utc":true},"type":"temporal","scale":{"type":"utc","domain":[{"year":2024,"month":10,"date":27,"hours":9,"utc":true},{"year":2025,"month":8,"date":18,"hours":16,"utc":true}]},"axis":null},
    "x2":{"datum":{"year":2025,"month":8,"date":29,"hours":12,"utc":true}},"y2":{"field":"v"}}},
  {"mark":{"type":"text","color":"white","fontSize":10.5,"align":"center","baseline":"middle","dy":-8},
   "encoding":{"x":{"datum":{"year":2025,"month":8,"date":24,"hours":9,"utc":true},"type":"temporal","scale":{"type":"utc","domain":[{"year":2024,"month":10,"date":27,"hours":9,"utc":true},{"year":2025,"month":8,"date":18,"hours":16,"utc":true}]},"axis":null},"text":{"field":"t"}}}
 ]},
{"data":{"values":[{"v":22.42,"t":"22.42"}]},
 "encoding":{"y":{"field":"v","type":"quantitative","axis":{"orient":"right","values":[15,30,35,40,45,50,55],"format":".2f","title":null,"domain":false,"ticks":false,"grid":false,"labelFontSize":10.5,"labelColor":"#131722","labelPadding":5,"labelFont":"Liberation Sans"}}},
 "layer":[
  {"mark":{"type":"rect","color":"#f23645","cornerRadius":2,"yOffset":-6,"y2Offset":7},
   "encoding":{"x":{"datum":{"year":2025,"month":8,"date":19,"hours":6,"utc":true},"type":"temporal","scale":{"type":"utc","domain":[{"year":2024,"month":10,"date":27,"hours":9,"utc":true},{"year":2025,"month":8,"date":18,"hours":16,"utc":true}]},"axis":null},
    "x2":{"datum":{"year":2025,"month":8,"date":29,"hours":12,"utc":true}},"y2":{"field":"v"}}},
  {"mark":{"type":"text","color":"white","fontSize":10.5,"align":"center","baseline":"middle","dy":0.5},
   "encoding":{"x":{"datum":{"year":2025,"month":8,"date":24,"hours":9,"utc":true},"type":"temporal","scale":{"type":"utc","domain":[{"year":2024,"month":10,"date":27,"hours":9,"utc":true},{"year":2025,"month":8,"date":18,"hours":16,"utc":true}]},"axis":null},"text":{"field":"t"}}}
 ]},
{"data":{"values":[{"v":21.76,"t":"21.76"}]},
 "encoding":{"y":{"field":"v","type":"quantitative","axis":{"orient":"right","values":[15,30,35,40,45,50,55],"format":".2f","title":null,"domain":false,"ticks":false,"grid":false,"labelFontSize":10.5,"labelColor":"#131722","labelPadding":5,"labelFont":"Liberation Sans"}}},
 "layer":[
  {"mark":{"type":"rect","color":"#22d022","cornerRadius":2,"yOffset":3,"y2Offset":16},
   "encoding":{"x":{"datum":{"year":2025,"month":8,"date":19,"hours":6,"utc":true},"type":"temporal","scale":{"type":"utc","domain":[{"year":2024,"month":10,"date":27,"hours":9,"utc":true},{"year":2025,"month":8,"date":18,"hours":16,"utc":true}]},"axis":null},
    "x2":{"datum":{"year":2025,"month":8,"date":29,"hours":12,"utc":true}},"y2":{"field":"v"}}},
  {"mark":{"type":"text","color":"#1b2a1b","fontSize":10.5,"align":"center","baseline":"middle","dy":9.5},
   "encoding":{"x":{"datum":{"year":2025,"month":8,"date":24,"hours":9,"utc":true},"type":"temporal","scale":{"type":"utc","domain":[{"year":2024,"month":10,"date":27,"hours":9,"utc":true},{"year":2025,"month":8,"date":18,"hours":16,"utc":true}]},"axis":null},"text":{"field":"t"}}}
 ]}
]
},
{
"width":977,"height":32,
"resolve":{"scale":{"color":"independent"}},
"layer":[
{"data":{"values":[{"a":70,"b":30}]},"mark":{"type":"rect","color":"#7e57c2","opacity":0.1},
 "encoding":{"y":{"field":"a","type":"quantitative","scale":{"domain":[22.7,80.9],"nice":false,"zero":false},"axis":null},"y2":{"field":"b"}}},
{"data":{"values":[{"v":80.9}]},"mark":{"type":"rule","color":"#d1d4dc","strokeWidth":1},
 "encoding":{"y":{"field":"v","type":"quantitative","axis":null}}},
{"data":{"values":[{"v":70},{"v":50},{"v":30}]},"mark":{"type":"rule","color":"#9598a1","strokeDash":[4,4],"strokeWidth":1},
 "encoding":{"y":{"field":"v","type":"quantitative","axis":null}}},
{"data":{"name":"rsima"},"mark":{"type":"line","color":"#f5c04a","strokeWidth":1,"interpolate":"monotone","clip":true},
 "encoding":{"x":{"field":"d","type":"temporal","scale":{"type":"utc","domain":[{"year":2024,"month":10,"date":27,"hours":9,"utc":true},{"year":2025,"month":8,"date":18,"hours":16,"utc":true}]},"axis":null},
  "y":{"field":"m","type":"quantitative","axis":null}}},
{"data":{"name":"rsi"},"mark":{"type":"line","color":"#7e57c2","strokeWidth":1,"clip":true},
 "encoding":{"x":{"field":"d","type":"temporal","scale":{"type":"utc","domain":[{"year":2024,"month":10,"date":27,"hours":9,"utc":true},{"year":2025,"month":8,"date":18,"hours":16,"utc":true}]},"axis":null},
  "y":{"field":"r","type":"quantitative","axis":null}}},
{"data":{"name":"tr"},"mark":{"type":"text","align":"left","baseline":"middle","fontSize":9.5,"font":"Liberation Sans"},
 "encoding":{"x":{"field":"d","type":"temporal","scale":{"type":"utc","domain":[{"year":2024,"month":10,"date":27,"hours":9,"utc":true},{"year":2025,"month":8,"date":18,"hours":16,"utc":true}]},"axis":null},
  "y":{"field":"v","type":"quantitative","axis":null},"text":{"field":"t"},
  "color":{"field":"k","type":"nominal","scale":{"domain":["dark","rsi","ma"],"range":["#131722","#7e57c2","#e8b33a"]},"legend":null}}},
{"data":{"values":[{"v":55.22,"t":"55.22"}]},
 "encoding":{"y":{"field":"v","type":"quantitative","axis":null}},
 "layer":[
  {"mark":{"type":"rect","color":"#f7cf4a","cornerRadius":2,"yOffset":-16.5,"y2Offset":-3.5},
   "encoding":{"x":{"datum":{"year":2025,"month":8,"date":19,"hours":6,"utc":true},"type":"temporal","scale":{"type":"utc","domain":[{"year":2024,"month":10,"date":27,"hours":9,"utc":true},{"year":2025,"month":8,"date":18,"hours":16,"utc":true}]},"axis":null},
    "x2":{"datum":{"year":2025,"month":8,"date":29,"hours":12,"utc":true}},"y2":{"field":"v"}}},
  {"mark":{"type":"text","color":"#131722","fontSize":10.5,"align":"center","baseline":"middle","dy":-10},
   "encoding":{"x":{"datum":{"year":2025,"month":8,"date":24,"hours":9,"utc":true},"type":"temporal","scale":{"type":"utc","domain":[{"year":2024,"month":10,"date":27,"hours":9,"utc":true},{"year":2025,"month":8,"date":18,"hours":16,"utc":true}]},"axis":null},"text":{"field":"t"}}}
 ]},
{"data":{"values":[{"v":49.36,"t":"49.36"}]},
 "encoding":{"y":{"field":"v","type":"quantitative","axis":null}},
 "layer":[
  {"mark":{"type":"rect","color":"#7e57c2","cornerRadius":2,"yOffset":-6,"y2Offset":7},
   "encoding":{"x":{"datum":{"year":2025,"month":8,"date":19,"hours":6,"utc":true},"type":"temporal","scale":{"type":"utc","domain":[{"year":2024,"month":10,"date":27,"hours":9,"utc":true},{"year":2025,"month":8,"date":18,"hours":16,"utc":true}]},"axis":null},
    "x2":{"datum":{"year":2025,"month":8,"date":29,"hours":12,"utc":true}},"y2":{"field":"v"}}},
  {"mark":{"type":"text","color":"white","fontSize":10.5,"align":"center","baseline":"middle","dy":0.5},
   "encoding":{"x":{"datum":{"year":2025,"month":8,"date":24,"hours":9,"utc":true},"type":"temporal","scale":{"type":"utc","domain":[{"year":2024,"month":10,"date":27,"hours":9,"utc":true},{"year":2025,"month":8,"date":18,"hours":16,"utc":true}]},"axis":null},"text":{"field":"t"}}}
 ]}
]
},
{
"width":977,"height":41,
"resolve":{"scale":{"color":"independent"}},
"layer":[
{"data":{"values":[{"v":4.67}]},"mark":{"type":"rule","color":"#d1d4dc","strokeWidth":1},
 "encoding":{"y":{"field":"v","type":"quantitative","scale":{"domain":[-4.44,4.67],"nice":false,"zero":false},"axis":null}}},
{"data":{"values":[{"v":0}]},"mark":{"type":"rule","color":"#9598a1","strokeDash":[4,4],"strokeWidth":1},
 "encoding":{"y":{"field":"v","type":"quantitative","axis":null}}},
{"data":{"name":"macd"},"mark":{"type":"bar","width":3,"opacity":0.85},
 "encoding":{"x":{"field":"d","type":"temporal","scale":{"type":"utc","domain":[{"year":2024,"month":10,"date":27,"hours":9,"utc":true},{"year":2025,"month":8,"date":18,"hours":16,"utc":true}]},"axis":{"values":[{"year":2024,"month":11,"date":1,"utc":true},{"year":2024,"month":12,"date":1,"utc":true},{"year":2025,"month":1,"date":1,"utc":true},{"year":2025,"month":2,"date":1,"utc":true},{"year":2025,"month":3,"date":1,"utc":true},{"year":2025,"month":4,"date":1,"utc":true},{"year":2025,"month":5,"date":1,"utc":true},{"year":2025,"month":6,"date":1,"utc":true},{"year":2025,"month":7,"date":1,"utc":true},{"year":2025,"month":8,"date":1,"utc":true}],"labelExpr":"utcmonth(datum.value) == 0 ? utcFormat(datum.value, '%Y') : utcFormat(datum.value, '%b')","title":null,"domain":false,"ticks":false,"grid":false,"labelOverlap":false,"labelFontSize":10.5,"labelColor":"#131722","labelPadding":5,"labelFont":"Liberation Sans"}},
  "y":{"field":"h","type":"quantitative","axis":null},"y2":{"datum":0},
  "color":{"condition":{"test":"datum.h >= 0","value":"#26a69a"},"value":"#ff5252"}}},
{"data":{"name":"macd"},"mark":{"type":"line","color":"#2962ff","strokeWidth":1,"interpolate":"monotone","clip":true},
 "encoding":{"x":{"field":"d","type":"temporal","scale":{"type":"utc","domain":[{"year":2024,"month":10,"date":27,"hours":9,"utc":true},{"year":2025,"month":8,"date":18,"hours":16,"utc":true}]},"axis":{"values":[{"year":2024,"month":11,"date":1,"utc":true},{"year":2024,"month":12,"date":1,"utc":true},{"year":2025,"month":1,"date":1,"utc":true},{"year":2025,"month":2,"date":1,"utc":true},{"year":2025,"month":3,"date":1,"utc":true},{"year":2025,"month":4,"date":1,"utc":true},{"year":2025,"month":5,"date":1,"utc":true},{"year":2025,"month":6,"date":1,"utc":true},{"year":2025,"month":7,"date":1,"utc":true},{"year":2025,"month":8,"date":1,"utc":true}],"labelExpr":"utcmonth(datum.value) == 0 ? utcFormat(datum.value, '%Y') : utcFormat(datum.value, '%b')","title":null,"domain":false,"ticks":false,"grid":false,"labelOverlap":false,"labelFontSize":10.5,"labelColor":"#131722","labelPadding":5,"labelFont":"Liberation Sans"}},
  "y":{"field":"m","type":"quantitative","axis":null}}},
{"data":{"name":"macd"},"mark":{"type":"line","color":"#ff6d00","strokeWidth":1,"interpolate":"monotone","clip":true},
 "encoding":{"x":{"field":"d","type":"temporal","scale":{"type":"utc","domain":[{"year":2024,"month":10,"date":27,"hours":9,"utc":true},{"year":2025,"month":8,"date":18,"hours":16,"utc":true}]},"axis":{"values":[{"year":2024,"month":11,"date":1,"utc":true},{"year":2024,"month":12,"date":1,"utc":true},{"year":2025,"month":1,"date":1,"utc":true},{"year":2025,"month":2,"date":1,"utc":true},{"year":2025,"month":3,"date":1,"utc":true},{"year":2025,"month":4,"date":1,"utc":true},{"year":2025,"month":5,"date":1,"utc":true},{"year":2025,"month":6,"date":1,"utc":true},{"year":2025,"month":7,"date":1,"utc":true},{"year":2025,"month":8,"date":1,"utc":true}],"labelExpr":"utcmonth(datum.value) == 0 ? utcFormat(datum.value, '%Y') : utcFormat(datum.value, '%b')","title":null,"domain":false,"ticks":false,"grid":false,"labelOverlap":false,"labelFontSize":10.5,"labelColor":"#131722","labelPadding":5,"labelFont":"Liberation Sans"}},
  "y":{"field":"s","type":"quantitative","axis":null}}},
{"data":{"name":"tm"},"mark":{"type":"text","align":"left","baseline":"middle","fontSize":9.5,"font":"Liberation Sans"},
 "encoding":{"x":{"field":"d","type":"temporal","scale":{"type":"utc","domain":[{"year":2024,"month":10,"date":27,"hours":9,"utc":true},{"year":2025,"month":8,"date":18,"hours":16,"utc":true}]},"axis":{"values":[{"year":2024,"month":11,"date":1,"utc":true},{"year":2024,"month":12,"date":1,"utc":true},{"year":2025,"month":1,"date":1,"utc":true},{"year":2025,"month":2,"date":1,"utc":true},{"year":2025,"month":3,"date":1,"utc":true},{"year":2025,"month":4,"date":1,"utc":true},{"year":2025,"month":5,"date":1,"utc":true},{"year":2025,"month":6,"date":1,"utc":true},{"year":2025,"month":7,"date":1,"utc":true},{"year":2025,"month":8,"date":1,"utc":true}],"labelExpr":"utcmonth(datum.value) == 0 ? utcFormat(datum.value, '%Y') : utcFormat(datum.value, '%b')","title":null,"domain":false,"ticks":false,"grid":false,"labelOverlap":false,"labelFontSize":10.5,"labelColor":"#131722","labelPadding":5,"labelFont":"Liberation Sans"}},
  "y":{"field":"v","type":"quantitative","axis":null},"text":{"field":"t"},
  "color":{"field":"k","type":"nominal","scale":{"domain":["dark","hist","macd","sig"],"range":["#131722","#f19aa2","#2962ff","#ff6d00"]},"legend":null}}},
{"data":{"values":[{"v":0.22,"t":"0.22"}]},
 "encoding":{"y":{"field":"v","type":"quantitative","axis":null}},
 "layer":[
  {"mark":{"type":"rect","color":"#2962ff","cornerRadius":2,"yOffset":-15.5,"y2Offset":-2.5},
   "encoding":{"x":{"datum":{"year":2025,"month":8,"date":19,"hours":6,"utc":true},"type":"temporal","scale":{"type":"utc","domain":[{"year":2024,"month":10,"date":27,"hours":9,"utc":true},{"year":2025,"month":8,"date":18,"hours":16,"utc":true}]},"axis":{"values":[{"year":2024,"month":11,"date":1,"utc":true},{"year":2024,"month":12,"date":1,"utc":true},{"year":2025,"month":1,"date":1,"utc":true},{"year":2025,"month":2,"date":1,"utc":true},{"year":2025,"month":3,"date":1,"utc":true},{"year":2025,"month":4,"date":1,"utc":true},{"year":2025,"month":5,"date":1,"utc":true},{"year":2025,"month":6,"date":1,"utc":true},{"year":2025,"month":7,"date":1,"utc":true},{"year":2025,"month":8,"date":1,"utc":true}],"labelExpr":"utcmonth(datum.value) == 0 ? utcFormat(datum.value, '%Y') : utcFormat(datum.value, '%b')","title":null,"domain":false,"ticks":false,"grid":false,"labelOverlap":false,"labelFontSize":10.5,"labelColor":"#131722","labelPadding":5,"labelFont":"Liberation Sans"}},
    "x2":{"datum":{"year":2025,"month":8,"date":29,"hours":12,"utc":true}},"y2":{"field":"v"}}},
  {"mark":{"type":"text","color":"white","fontSize":10.5,"align":"center","baseline":"middle","dy":-9},
   "encoding":{"x":{"datum":{"year":2025,"month":8,"date":24,"hours":9,"utc":true},"type":"temporal","scale":{"type":"utc","domain":[{"year":2024,"month":10,"date":27,"hours":9,"utc":true},{"year":2025,"month":8,"date":18,"hours":16,"utc":true}]},"axis":{"values":[{"year":2024,"month":11,"date":1,"utc":true},{"year":2024,"month":12,"date":1,"utc":true},{"year":2025,"month":1,"date":1,"utc":true},{"year":2025,"month":2,"date":1,"utc":true},{"year":2025,"month":3,"date":1,"utc":true},{"year":2025,"month":4,"date":1,"utc":true},{"year":2025,"month":5,"date":1,"utc":true},{"year":2025,"month":6,"date":1,"utc":true},{"year":2025,"month":7,"date":1,"utc":true},{"year":2025,"month":8,"date":1,"utc":true}],"labelExpr":"utcmonth(datum.value) == 0 ? utcFormat(datum.value, '%Y') : utcFormat(datum.value, '%b')","title":null,"domain":false,"ticks":false,"grid":false,"labelOverlap":false,"labelFontSize":10.5,"labelColor":"#131722","labelPadding":5,"labelFont":"Liberation Sans"}},"text":{"field":"t"}}}
 ]},
{"data":{"values":[{"v":-0.43,"t":"−0.43"}]},
 "encoding":{"y":{"field":"v","type":"quantitative","axis":null}},
 "layer":[
  {"mark":{"type":"rect","color":"#fccbcd","cornerRadius":2,"yOffset":-6.5,"y2Offset":6.5},
   "encoding":{"x":{"datum":{"year":2025,"month":8,"date":19,"hours":6,"utc":true},"type":"temporal","scale":{"type":"utc","domain":[{"year":2024,"month":10,"date":27,"hours":9,"utc":true},{"year":2025,"month":8,"date":18,"hours":16,"utc":true}]},"axis":{"values":[{"year":2024,"month":11,"date":1,"utc":true},{"year":2024,"month":12,"date":1,"utc":true},{"year":2025,"month":1,"date":1,"utc":true},{"year":2025,"month":2,"date":1,"utc":true},{"year":2025,"month":3,"date":1,"utc":true},{"year":2025,"month":4,"date":1,"utc":true},{"year":2025,"month":5,"date":1,"utc":true},{"year":2025,"month":6,"date":1,"utc":true},{"year":2025,"month":7,"date":1,"utc":true},{"year":2025,"month":8,"date":1,"utc":true}],"labelExpr":"utcmonth(datum.value) == 0 ? utcFormat(datum.value, '%Y') : utcFormat(datum.value, '%b')","title":null,"domain":false,"ticks":false,"grid":false,"labelOverlap":false,"labelFontSize":10.5,"labelColor":"#131722","labelPadding":5,"labelFont":"Liberation Sans"}},
    "x2":{"datum":{"year":2025,"month":8,"date":29,"hours":12,"utc":true}},"y2":{"field":"v"}}},
  {"mark":{"type":"text","color":"#3b1e1e","fontSize":10.5,"align":"center","baseline":"middle","dy":0},
   "encoding":{"x":{"datum":{"year":2025,"month":8,"date":24,"hours":9,"utc":true},"type":"temporal","scale":{"type":"utc","domain":[{"year":2024,"month":10,"date":27,"hours":9,"utc":true},{"year":2025,"month":8,"date":18,"hours":16,"utc":true}]},"axis":{"values":[{"year":2024,"month":11,"date":1,"utc":true},{"year":2024,"month":12,"date":1,"utc":true},{"year":2025,"month":1,"date":1,"utc":true},{"year":2025,"month":2,"date":1,"utc":true},{"year":2025,"month":3,"date":1,"utc":true},{"year":2025,"month":4,"date":1,"utc":true},{"year":2025,"month":5,"date":1,"utc":true},{"year":2025,"month":6,"date":1,"utc":true},{"year":2025,"month":7,"date":1,"utc":true},{"year":2025,"month":8,"date":1,"utc":true}],"labelExpr":"utcmonth(datum.value) == 0 ? utcFormat(datum.value, '%Y') : utcFormat(datum.value, '%b')","title":null,"domain":false,"ticks":false,"grid":false,"labelOverlap":false,"labelFontSize":10.5,"labelColor":"#131722","labelPadding":5,"labelFont":"Liberation Sans"}},"text":{"field":"t"}}}
 ]}
]
}
]
}
